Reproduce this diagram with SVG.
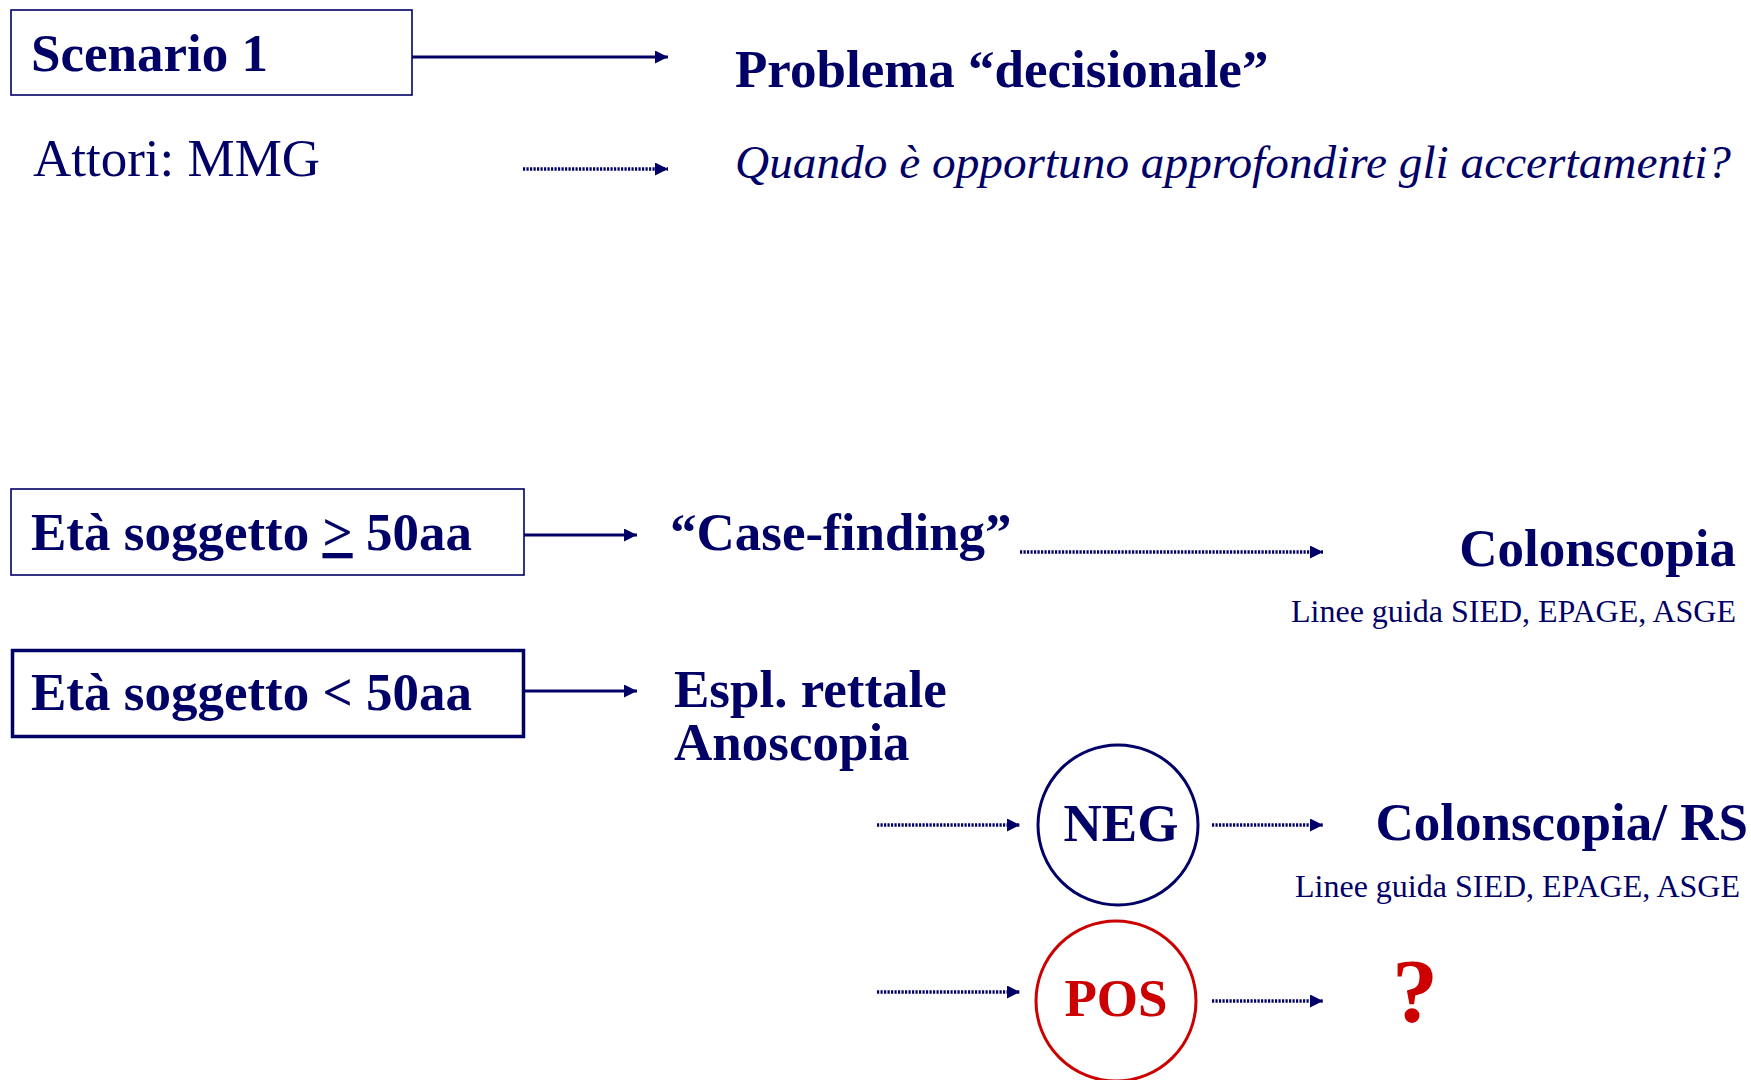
<svg xmlns="http://www.w3.org/2000/svg" width="1751" height="1080" viewBox="0 0 1751 1080">
<style>
.t{font-family:"Liberation Serif","Times New Roman",serif;fill:#000066}
.b{font-weight:bold}
.r{fill:#CC0000}
.box{fill:none;stroke:#000066;stroke-width:1.6}
.solid{stroke:#000066;stroke-width:3;fill:none}
.dot{stroke:#000066;stroke-width:3.5;fill:none;stroke-dasharray:2.2 1.3}
</style>
<defs>
<marker id="ah" viewBox="0 0 10 10" refX="10" refY="5" markerWidth="13" markerHeight="13" markerUnits="userSpaceOnUse" orient="auto">
<path d="M0,0 L10,5 L0,10 Z" fill="#000066"/>
</marker>
</defs>
<rect width="1751" height="1080" fill="#fff"/>
<g id="scenario">
<rect class="box" x="11" y="10" width="401" height="85"/>
<text class="t b" x="31" y="71" font-size="53">Scenario 1</text>
</g>
<g id="attori"><text class="t" x="33" y="176" font-size="53">Attori: MMG</text></g>
<g id="problema"><text class="t b" x="735" y="87" font-size="53">Problema “decisionale”</text></g>
<g id="quando"><text class="t" font-style="italic" x="735" y="178" font-size="47" textLength="996" lengthAdjust="spacingAndGlyphs">Quando è opportuno approfondire gli accertamenti?</text></g>
<g id="eta50">
<rect class="box" x="11" y="489" width="513" height="86"/>
<text class="t b" x="31" y="550" font-size="53">Età soggetto <tspan text-decoration="underline">&gt;</tspan> 50aa</text>
</g>
<g id="case"><text class="t b" x="670" y="550" font-size="53">“Case-finding”</text></g>
<g id="colon1">
<text class="t b" x="1736" y="566" font-size="53" text-anchor="end">Colonscopia</text>
<text class="t" x="1736" y="622" font-size="32" text-anchor="end">Linee guida SIED, EPAGE, ASGE</text>
</g>
<g id="eta49">
<rect x="12.5" y="650.5" width="511" height="86" fill="none" stroke="#000066" stroke-width="3.5"/>
<text class="t b" x="31" y="710" font-size="53">Età soggetto &lt; 50aa</text>
</g>
<g id="espl">
<text class="t b" x="674" y="707" font-size="53">Espl. rettale</text>
<text class="t b" x="674" y="760" font-size="53">Anoscopia</text>
</g>
<g id="neg">
<circle cx="1118" cy="825" r="80" fill="none" stroke="#000066" stroke-width="3"/>
<text class="t b" x="1121" y="841" font-size="53" text-anchor="middle">NEG</text>
</g>
<g id="colon2">
<text class="t b" x="1748" y="840" font-size="53" text-anchor="end">Colonscopia/ RS</text>
<text class="t" x="1740" y="897" font-size="32" text-anchor="end">Linee guida SIED, EPAGE, ASGE</text>
</g>
<g id="pos">
<circle cx="1116" cy="1001" r="80" fill="none" stroke="#CC0000" stroke-width="3"/>
<text class="t b r" x="1116" y="1016" font-size="53" text-anchor="middle">POS</text>
</g>
<g id="question"><text class="t b r" x="1415" y="1022" font-size="92" text-anchor="middle">?</text></g>
<g id="connectors">
<line class="solid" x1="412" y1="57" x2="668" y2="57" marker-end="url(#ah)"/>
<line class="dot" x1="523" y1="169" x2="668" y2="169" marker-end="url(#ah)"/>
<line class="solid" x1="524" y1="535" x2="637" y2="535" marker-end="url(#ah)"/>
<line class="dot" x1="1020" y1="552" x2="1323" y2="552" marker-end="url(#ah)"/>
<line class="solid" x1="525" y1="691" x2="637" y2="691" marker-end="url(#ah)"/>
<line class="dot" x1="877" y1="825" x2="1020" y2="825" marker-end="url(#ah)"/>
<line class="dot" x1="1212" y1="825" x2="1323" y2="825" marker-end="url(#ah)"/>
<line class="dot" x1="877" y1="992" x2="1020" y2="992" marker-end="url(#ah)"/>
<line class="dot" x1="1212" y1="1001" x2="1323" y2="1001" marker-end="url(#ah)"/>
</g>
</svg>
